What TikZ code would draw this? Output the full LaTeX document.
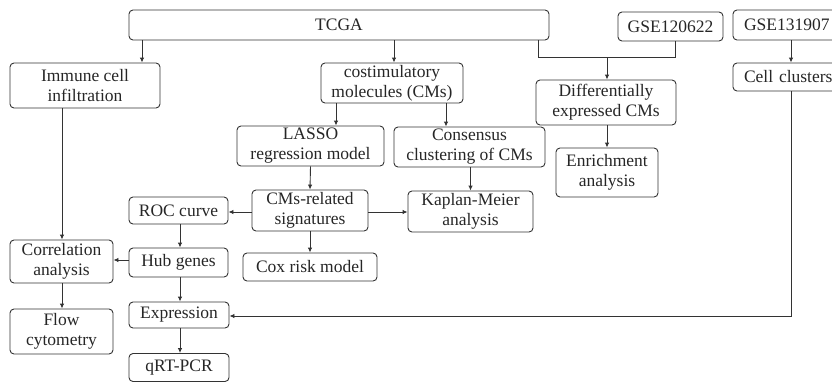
\documentclass[tikz,border=0pt]{standalone}
\usepackage{fontspec}
\setmainfont{Liberation Serif}
\usetikzlibrary{arrows.meta}
\definecolor{ln}{HTML}{333333}
\begin{document}
\begin{tikzpicture}[x=1pt,y=-1pt,
  box/.style={draw=ln,line width=0.9pt,rounded corners=4pt,align=center,inner sep=1pt,
    font=\fontsize{17.5}{20}\selectfont,text=black!85},
  arr/.style={draw=ln,line width=0.9pt,-{Latex[length=5pt,width=4.5pt]}},
  ln/.style={draw=ln,line width=0.9pt}]
\useasboundingbox (0,0) rectangle (832,383);
\clip (0,0) rectangle (832,383);
\node[box,minimum width=420,minimum height=30] (tcga) at (339,25) {TCGA};
\node[box,minimum width=105,minimum height=29] (gsea) at (670.5,26.5) {GSE120622};
\node[box,minimum width=116,minimum height=30,text width=110,align=left] (gseb) at (791,25) {\hspace{8pt}GSE131907};
\node[box,minimum width=150,minimum height=45] (immune) at (85,85.5) {Immune cell\\infiltration};
\node[box,minimum width=142,minimum height=40] (cms) at (392,83) {costimulatory\\molecules (CMs)};
\node[box,minimum width=147,minimum height=40] (lasso) at (310.5,146) {LASSO\\regression model};
\node[box,minimum width=151,minimum height=40] (cons) at (469.5,147) {Consensus\\clustering of CMs};
\node[box,minimum width=140,minimum height=45] (diff) at (606,102.5) {Differentially\\expressed CMs};
\node[box,minimum width=102,minimum height=49] (enr) at (607,172.5) {Enrichment\\analysis};
\node[box,minimum width=116,minimum height=28,text width=110,align=left] (cell) at (791,77) {\hspace{8pt}Cell clusters};
\node[box,minimum width=116,minimum height=41] (sig) at (310,210.5) {CMs-related\\signatures};
\node[box,minimum width=99,minimum height=27] (roc) at (178.5,210.5) {ROC curve};
\node[box,minimum width=125,minimum height=41] (km) at (470.5,211.5) {Kaplan-Meier\\analysis};
\node[box,minimum width=103,minimum height=43] (corr) at (61.5,261.5) {Correlation\\analysis};
\node[box,minimum width=99,minimum height=29] (hub) at (178.5,262.5) {Hub genes};
\node[box,minimum width=134,minimum height=28] (cox) at (310,267) {Cox risk model};
\node[box,minimum width=103,minimum height=45] (flow) at (61.5,331.5) {Flow\\cytometry};
\node[box,minimum width=100,minimum height=26] (expr) at (179,315) {Expression};
\node[box,minimum width=100,minimum height=28] (qrt) at (179,367.5) {qRT-PCR};
\coordinate (x142) at (142,0);
\coordinate (x394) at (394,0);
\coordinate (x538) at (538,57);
\coordinate (x675) at (675,57);
\coordinate (x607) at (607,57);
\coordinate (x791) at (791,0);
\coordinate (x336) at (336,0);
\coordinate (x446) at (446,0);
\coordinate (x62) at (62,0);
\coordinate (x180) at (180,0);
\coordinate (y212) at (0,212);
\coordinate (y260) at (0,260);
\coordinate (bend) at (791,316);
\draw[arr] (tcga.south -| x142) -- (immune.north -| x142);
\draw[arr] (tcga.south -| x394) -- (cms.north -| x394);
\draw[ln] (tcga.south -| x538) -- (x538) -- (x675) -- (gsea.south -| x675);
\draw[arr] (x607) -- (diff.north -| x607);
\draw[arr] (diff.south -| x607) -- (enr.north -| x607);
\draw[arr] (gseb.south -| x791) -- (cell.north -| x791);
\draw[arr] (cell.south -| x791) -- (bend) -- (expr.east |- bend);
\draw[arr] (cms.south -| x336) -- (lasso.north -| x336);
\draw[arr] (cms.south -| x446) -- (cons.north -| x446);
\draw[arr] (lasso.south) -- (sig.north);
\draw[arr] (cons.south -| km.north) -- (km.north);
\draw[arr] (sig.west |- y212) -- (roc.east |- y212);
\draw[arr] (sig.east |- y212) -- (km.west |- y212);
\draw[arr] (sig.south) -- (cox.north);
\draw[arr] (roc.south -| x180) -- (hub.north -| x180);
\draw[arr] (hub.west |- y260) -- (corr.east |- y260);
\draw[arr] (immune.south -| x62) -- (corr.north -| x62);
\draw[arr] (corr.south -| x62) -- (flow.north -| x62);
\draw[arr] (hub.south -| x180) -- (expr.north -| x180);
\draw[arr] (expr.south -| x180) -- (qrt.north -| x180);
\end{tikzpicture}
\end{document}
